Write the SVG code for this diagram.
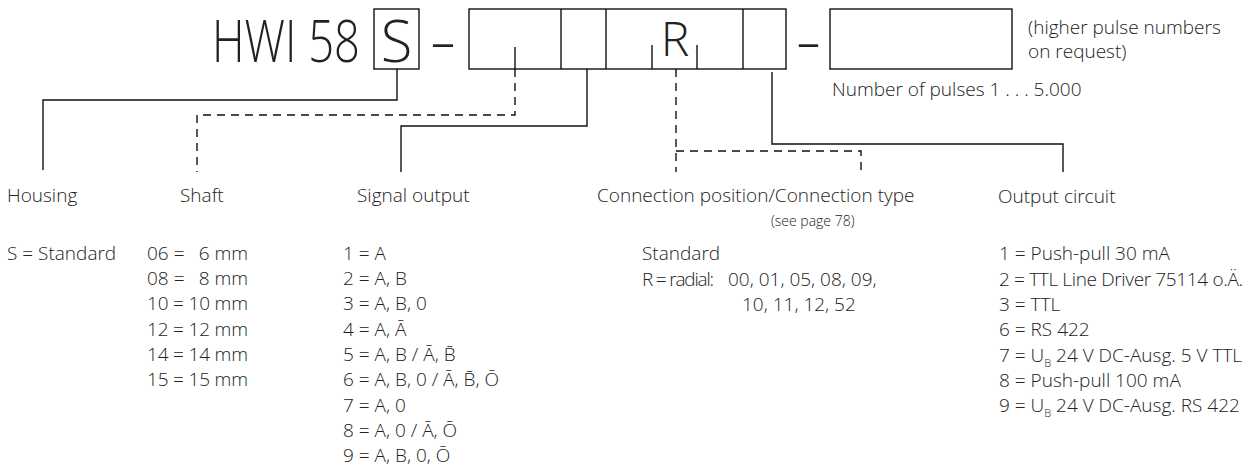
<svg xmlns="http://www.w3.org/2000/svg" width="1253" height="468" viewBox="0 0 1253 468">
<style>
text{font-family:"Open Sans","Noto Sans","Liberation Sans",sans-serif;font-weight:300;fill:#222;font-size:19px}
.big{font-size:58px}
.mid{font-size:48px}
.sm{font-size:14px}
.sub{font-size:11px}
.box{fill:none;stroke:#111;stroke-width:1.4}
.ln{fill:none;stroke:#111;stroke-width:1.4}
.dash{fill:none;stroke:#111;stroke-width:1.4;stroke-dasharray:8 6}
</style>
<rect width="1253" height="468" fill="#fff"/>
<g id="code">
<text class="big" x="212" y="62" textLength="148" lengthAdjust="spacingAndGlyphs">HWI 58</text>
<rect class="box" x="374" y="9" width="45" height="60"/>
<text class="big" x="396.5" y="62" text-anchor="middle">S</text>
<text class="big" x="431" y="62" textLength="24" lengthAdjust="spacingAndGlyphs">–</text>
<rect class="box" x="469" y="9" width="317" height="60"/>
<line class="ln" x1="561" y1="9" x2="561" y2="69"/>
<line class="ln" x1="606" y1="9" x2="606" y2="69"/>
<line class="ln" x1="743" y1="9" x2="743" y2="69"/>
<line class="ln" x1="515" y1="47" x2="515" y2="69"/>
<line class="ln" x1="652" y1="45" x2="652" y2="69"/>
<line class="ln" x1="697" y1="45" x2="697" y2="69"/>
<text class="mid" x="675" y="56" text-anchor="middle">R</text>
<text class="big" x="797" y="62" textLength="23" lengthAdjust="spacingAndGlyphs">–</text>
<rect class="box" x="830" y="9" width="182" height="60"/>
<text x="1028" y="34">(higher pulse numbers</text>
<text x="1028" y="58">on request)</text>
<text x="832" y="96">Number of pulses 1 . . . 5.000</text>
</g>
<g id="connectors">
<path class="ln" d="M397,69 V100 H43 V170"/>
<path class="dash" d="M515,69 V115 H197 V172"/>
<path class="ln" d="M587,69 V126 H401 V172"/>
<path class="dash" d="M676,69 V172"/>
<path class="dash" d="M676,151 H861 V172"/>
<path class="ln" d="M772,72 V144 H1063 V172"/>
</g>
<g id="housing">
<text x="7" y="202">Housing</text>
<text x="7" y="260">S = Standard</text>
</g>
<g id="shaft">
<text x="180" y="202">Shaft</text>
<text x="147" y="260">06 =</text><text x="248" y="260" text-anchor="end">6 mm</text>
<text x="147" y="285">08 =</text><text x="248" y="285" text-anchor="end">8 mm</text>
<text x="147" y="310" textLength="101" lengthAdjust="spacing">10 = 10 mm</text>
<text x="147" y="336" textLength="101" lengthAdjust="spacing">12 = 12 mm</text>
<text x="147" y="361" textLength="101" lengthAdjust="spacing">14 = 14 mm</text>
<text x="147" y="386" textLength="101" lengthAdjust="spacing">15 = 15 mm</text>
</g>
<g id="signal">
<text x="357" y="202">Signal output</text>
<text x="343" y="260">1 = A</text>
<text x="343" y="285">2 = A, B</text>
<text x="343" y="310">3 = A, B, 0</text>
<text x="343" y="336">4 = A, Ā</text>
<text x="343" y="361">5 = A, B / Ā, B̄</text>
<text x="343" y="386">6 = A, B, 0 / Ā, B̄, Ō</text>
<text x="343" y="412">7 = A, 0</text>
<text x="343" y="437">8 = A, 0 / Ā, Ō</text>
<text x="343" y="462">9 = A, B, 0, Ō</text>
</g>
<g id="connection">
<text x="597" y="202">Connection position/Connection type</text>
<text class="sm" x="771" y="226">(see page 78)</text>
<text x="642" y="260">Standard</text>
<text x="642" y="286" textLength="72" lengthAdjust="spacing">R = radial:</text>
<text x="728" y="286">00, 01, 05, 08, 09,</text>
<text x="742" y="311">10, 11, 12, 52</text>
</g>
<g id="output">
<text x="998" y="203">Output circuit</text>
<text x="999" y="260">1 = Push-pull 30 mA</text>
<text x="999" y="286" textLength="244" lengthAdjust="spacing">2 = TTL Line Driver 75114 o.Ä.</text>
<text x="999" y="311">3 = TTL</text>
<text x="999" y="336">6 = RS 422</text>
<text x="999" y="362">7 = U<tspan class="sub" dy="5">B</tspan><tspan dy="-5"> 24 V DC-Ausg. 5 V TTL</tspan></text>
<text x="999" y="387">8 = Push-pull 100 mA</text>
<text x="999" y="412">9 = U<tspan class="sub" dy="5">B</tspan><tspan dy="-5"> 24 V DC-Ausg. RS 422</tspan></text>
</g>
</svg>
